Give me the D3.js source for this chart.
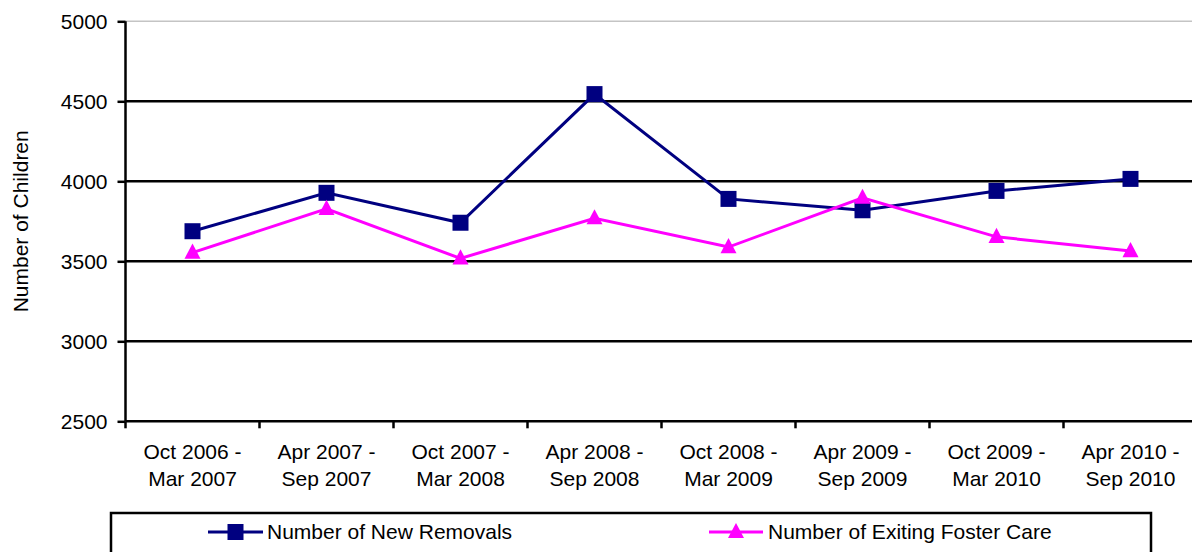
<!DOCTYPE html>
<html>
<head>
<meta charset="utf-8">
<script src="https://cdn.jsdelivr.net/npm/d3@7"></script>
<style>
  html, body { margin: 0; padding: 0; background: #fff; }
  svg { display: block; font-family: "Liberation Sans", Arial, sans-serif; }
</style>
</head>
<body>
<svg id="chart" width="1192" height="552"></svg>
<script>
// Half-year periods (two label lines each)
const categories = [
  ["Oct 2006 -", "Mar 2007"],
  ["Apr 2007 -", "Sep 2007"],
  ["Oct 2007 -", "Mar 2008"],
  ["Apr 2008 -", "Sep 2008"],
  ["Oct 2008 -", "Mar 2009"],
  ["Apr 2009 -", "Sep 2009"],
  ["Oct 2009 -", "Mar 2010"],
  ["Apr 2010 -", "Sep 2010"]
];
const newRemovals = [3688, 3928, 3741, 4545, 3890, 3819, 3940, 4015];
const exitingFosterCare = [3554, 3828, 3518, 3769, 3589, 3897, 3653, 3564];
const yTicks = [2500, 3000, 3500, 4000, 4500, 5000];
const seriesNames = ["Number of New Removals", "Number of Exiting Foster Care"];
const yTitle = "Number of Children";

const svg = d3.select("#chart");
const FONT = 21;
const plot = { left: 125.5, right: 1197.5, top: 21.3, bottom: 421.3 };

const keys = categories.map(c => c.join(" "));
const x = d3.scaleBand().domain(keys).range([plot.left, plot.right]);
const cx = k => x(k) + x.bandwidth() / 2;
const y = d3.scaleLinear().domain([2500, 5000]).range([plot.bottom, plot.top]);

// Horizontal gridlines (top one drawn lighter, like a plot-area edge)
svg.append("g").selectAll("line")
  .data(yTicks.filter(v => v > 2500))
  .join("line")
  .attr("x1", plot.left).attr("x2", plot.right)
  .attr("y1", d => y(d)).attr("y2", d => y(d))
  .attr("stroke", d => d === 5000 ? "#c4c4c4" : "#000")
  .attr("stroke-width", d => d === 5000 ? 1.5 : 2.5);

// Y axis
const yAxis = svg.append("g")
  .attr("transform", `translate(${plot.left},0)`)
  .call(d3.axisLeft(y).tickValues(yTicks).tickSize(8).tickPadding(10).tickFormat(d3.format("d")));
yAxis.select(".domain").attr("stroke", "#000").attr("stroke-width", 2.5)
  .attr("d", `M0,${plot.top}V${plot.bottom}`);
yAxis.selectAll(".tick line").attr("stroke", "#000").attr("stroke-width", 2.5);
yAxis.selectAll(".tick text").attr("font-size", FONT).attr("fill", "#000")
  .attr("font-family", "Liberation Sans, Arial, sans-serif");

// X axis line and boundary ticks
svg.append("line")
  .attr("x1", plot.left).attr("x2", plot.right)
  .attr("y1", plot.bottom).attr("y2", plot.bottom)
  .attr("stroke", "#000").attr("stroke-width", 2.5);
svg.append("g").selectAll("line")
  .data(keys)
  .join("line")
  .attr("x1", d => x(d)).attr("x2", d => x(d))
  .attr("y1", plot.bottom).attr("y2", plot.bottom + 7)
  .attr("stroke", "#000").attr("stroke-width", 2.5);

// Category labels
const lbl = svg.append("g").selectAll("text")
  .data(categories)
  .join("text")
  .attr("text-anchor", "middle")
  .attr("font-size", FONT)
  .attr("fill", "#000");
lbl.each(function(d, i) {
  const t = d3.select(this);
  d.forEach((line, j) => {
    t.append("tspan")
      .attr("x", cx(keys[i]))
      .attr("y", 459 + j * 27)
      .text(line);
  });
});

// Y title
svg.append("text")
  .attr("transform", `translate(28,${(plot.top + plot.bottom) / 2}) rotate(-90)`)
  .attr("text-anchor", "middle")
  .attr("font-size", FONT)
  .attr("fill", "#000")
  .text(yTitle);

// Series
const colors = ["#000080", "#ff00ff"];
const series = [newRemovals, exitingFosterCare];
const line = d3.line().x((d, i) => cx(keys[i])).y(d => y(d));

const sq = 16;
const triPath = (px, py, s) => {
  const h = s * 0.95;
  return `M${px},${py - h * 0.6}L${px + s / 2},${py + h * 0.4}L${px - s / 2},${py + h * 0.4}Z`;
};

series.forEach((vals, si) => {
  svg.append("path")
    .datum(vals)
    .attr("d", line)
    .attr("fill", "none")
    .attr("stroke", colors[si])
    .attr("stroke-width", 3);
});
series.forEach((vals, si) => {
  const g = svg.append("g");
  if (si === 0) {
    g.selectAll("rect").data(vals).join("rect")
      .attr("x", (d, i) => cx(keys[i]) - sq / 2)
      .attr("y", d => y(d) - sq / 2)
      .attr("width", sq).attr("height", sq)
      .attr("fill", colors[0]);
  } else {
    g.selectAll("path").data(vals).join("path")
      .attr("d", (d, i) => triPath(cx(keys[i]), y(d), 16))
      .attr("fill", colors[1]);
  }
});

// Legend
svg.append("rect")
  .attr("x", 111).attr("y", 513)
  .attr("width", 1040).attr("height", 60)
  .attr("fill", "#fff").attr("stroke", "#000").attr("stroke-width", 2.5);

const legendItems = [
  { x0: 208, x1: 263, tx: 267 },
  { x0: 709, x1: 763, tx: 768 }
];
const ly = 532;
legendItems.forEach((it, i) => {
  svg.append("line")
    .attr("x1", it.x0).attr("x2", it.x1)
    .attr("y1", ly).attr("y2", ly)
    .attr("stroke", colors[i]).attr("stroke-width", 3);
  const mx = (it.x0 + it.x1) / 2;
  if (i === 0) {
    svg.append("rect")
      .attr("x", mx - sq / 2).attr("y", ly - sq / 2)
      .attr("width", sq).attr("height", sq)
      .attr("fill", colors[0]);
  } else {
    svg.append("path").attr("d", triPath(mx, ly, 16)).attr("fill", colors[1]);
  }
  svg.append("text")
    .attr("x", it.tx).attr("y", ly)
    .attr("dy", "0.35em")
    .attr("font-size", FONT)
    .attr("fill", "#000")
    .text(seriesNames[i]);
});
</script>
</body>
</html>
